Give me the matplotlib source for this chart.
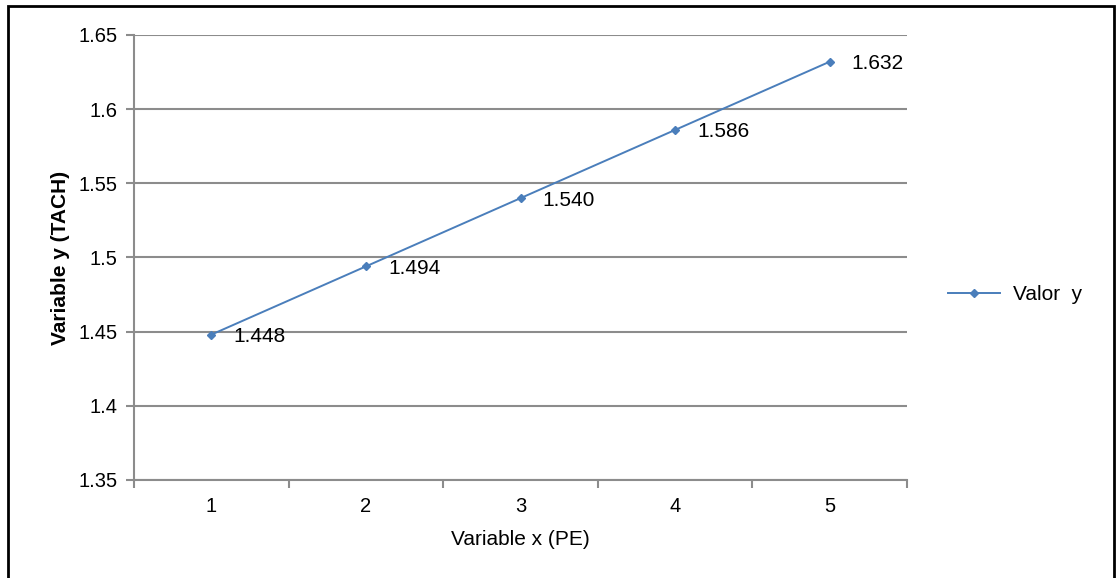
import matplotlib.pyplot as plt
from matplotlib.patches import Rectangle
from matplotlib.lines import Line2D

plt.rcParams['font.family'] = ['Liberation Sans', 'DejaVu Sans']

# datos
x_vals = [1, 2, 3, 4, 5]
y_vals = [1.448, 1.494, 1.540, 1.586, 1.632]
y_ticks = [1.35, 1.4, 1.45, 1.5, 1.55, 1.6, 1.65]
y_tick_labels = ['1.35', '1.4', '1.45', '1.5', '1.55', '1.6', '1.65']

color = '#4A7EBB'
grid = '#8C8C8C'
fs = 15

fig = plt.figure(figsize=(11.16, 5.78), dpi=100)
ax = fig.add_axes([134 / 1116, 1 - 480 / 578, 773 / 1116, 445 / 578])

ax.plot(x_vals, y_vals, color=color, lw=1.4, marker='D', ms=4.5,
        markerfacecolor=color, markeredgecolor=color, zorder=3)

for x, y in zip(x_vals, y_vals):
    ax.annotate(f'{y:.3f}', (x, y), xytext=(22, -2), textcoords='offset pixels',
                ha='left', va='center', fontsize=fs, color='black')

ax.set_xlim(0.5, 5.5)
ax.set_ylim(1.35, 1.65)
ax.set_yticks(y_ticks)
ax.set_yticklabels(y_tick_labels)
ax.set_xticks([0.5, 1.5, 2.5, 3.5, 4.5, 5.5])
ax.set_xticklabels([])
ax.set_xticks(x_vals, minor=True)
ax.set_xticklabels([str(v) for v in x_vals], minor=True)
ax.tick_params(axis='x', which='minor', length=0, pad=12, labelsize=fs - 0.5)
ax.tick_params(axis='x', which='major', length=6, width=1.5, color=grid, direction='out')
ax.tick_params(axis='y', length=6, width=1.5, color=grid, labelsize=fs - 0.5, pad=6)

ax.yaxis.grid(True, color=grid, lw=1.5)
ax.set_axisbelow(True)
for s in ['top', 'right']:
    ax.spines[s].set_visible(False)
for s in ['left', 'bottom']:
    ax.spines[s].set_color(grid)
    ax.spines[s].set_linewidth(1.5)

ax.set_ylabel('Variable y (TACH)', fontsize=fs, fontweight='bold', labelpad=6)
ax.set_xlabel('Variable x (PE)', fontsize=fs, labelpad=10)

handle = Line2D([], [], color=color, lw=1.4, marker='D', ms=4.5,
                markerfacecolor=color, markeredgecolor=color)
fig.legend([handle], ['Valor  y'], loc='center left',
           bbox_to_anchor=(948 / 1116, 1 - 295 / 578), frameon=False,
           borderaxespad=0, borderpad=0, fontsize=fs,
           handlelength=2.5, handletextpad=0.6)

# marco exterior
fig.patches.append(Rectangle((8 / 1116, -0.05), 1106 / 1116, 1.05 - 6 / 578,
                             transform=fig.transFigure, fill=False,
                             edgecolor='black', lw=2))

fig.savefig('out.png', dpi=100)
